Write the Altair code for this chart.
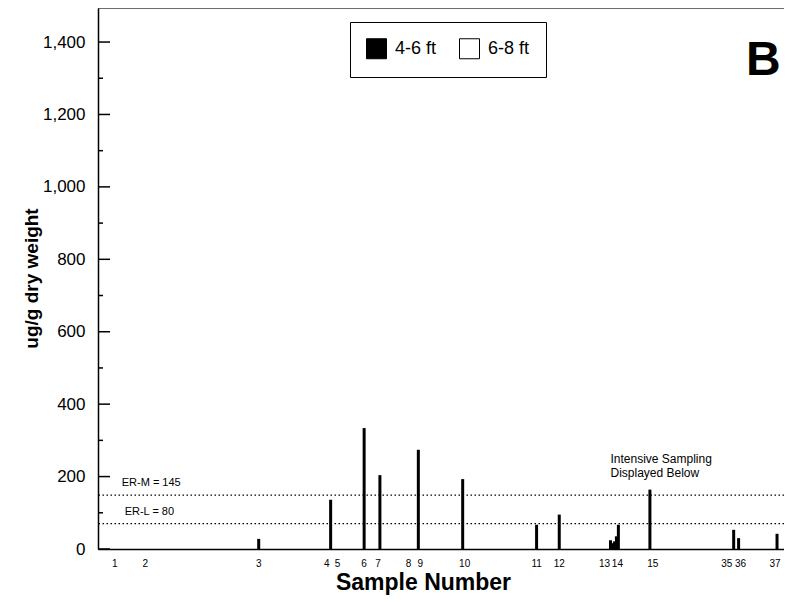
import altair as alt
import pandas as pd

FONT = "Liberation Sans"

# Sample-station positions along the transect (relative units) and concentrations (ug/g)
bar_pos = [158, 231, 265, 281, 320, 365, 440, 463, 515, 517, 519, 521, 523, 555, 640, 645, 684]
bar_val = [28, 136, 334, 204, 274, 193, 67, 95, 24, 16, 21, 35, 67, 164, 53, 30, 42]
bar_depth = ["4-6 ft"] * len(bar_pos)

# Sample number labels along the x axis
label_pos = [12, 43, 158, 227, 238, 265, 279, 310, 322, 367, 440, 463, 509, 522, 558, 633, 647, 682]
label_txt = ["1", "2", "3", "4", "5", "6", "7", "8", "9", "10", "11", "12", "13", "14", "15", "35", "36", "37"]

series = ["4-6 ft", "6-8 ft"]
series_fill = ["black", "white"]

major_ticks = [0, 200, 400, 600, 800, 1000, 1200, 1400]
minor_ticks = [100, 300, 500, 700, 900, 1100, 1300]

ref_vals = [149, 70]
ref_text = ["ER-M  = 145", "ER-L  = 80"]
ref_text_x = [19, 22]
ref_text_y = [182, 102]

note_text = ["Intensive Sampling", "Displayed Below"]
note_x = [515, 515]
note_y = [249, 210]

X_MAX = 686
Y_MAX = 1494
W, H = 686, 541

XT = "Sample Number"
YT = "ug/g dry weight"

xs = alt.Scale(domain=[0, X_MAX], nice=False, zero=False)
ys = alt.Scale(domain=[0, Y_MAX], nice=False)

bars_df = pd.DataFrame({"pos": bar_pos, "val": bar_val, "depth": bar_depth})
labels_df = pd.DataFrame({"pos": label_pos, "txt": label_txt})
maj_df = pd.DataFrame({"v": major_ticks})
min_df = pd.DataFrame({"v": minor_ticks})
ref_df = pd.DataFrame({"v": ref_vals})
reftxt_df = pd.DataFrame({"x": ref_text_x, "y": ref_text_y, "t": ref_text})
note_df = pd.DataFrame({"x": note_x, "y": note_y, "t": note_text})
b_df = pd.DataFrame({"x": [670], "y": [1309], "t": ["B"]})

bars = alt.Chart(bars_df).mark_bar(size=3, strokeWidth=0).encode(
    x=alt.X("pos:Q", scale=xs, title=XT, axis=alt.Axis(
        title=XT, labels=False, ticks=False, grid=False, domain=True,
        domainColor="black", domainWidth=1.5,
        titleFont=FONT, titleFontSize=23, titleFontWeight="bold", titleColor="black",
        titleX=325, titleY=33, titleAlign="center", titleBaseline="middle")),
    y=alt.Y("val:Q", scale=ys, title=YT, axis=alt.Axis(
        title=YT, values=major_ticks, labelExpr="format(datum.value, ',')", ticks=False, grid=False,
        domain=True, domainColor="black", domainWidth=1.5,
        labelFont=FONT, labelFontSize=17, labelColor="black", labelPadding=13,
        titleFont=FONT, titleFontSize=19, titleFontWeight="bold", titleColor="black",
        titleX=-67, titleY=270, titleAlign="center", titleBaseline="middle", titleAngle=270)),
    fill=alt.Fill("depth:N", scale=alt.Scale(domain=series, range=series_fill),
                  legend=alt.Legend(title=None, orient="none", legendX=252, legendY=14,
                                    direction="horizontal", symbolType="square", symbolSize=400,
                                    symbolStrokeColor="black", symbolStrokeWidth=1,
                                    labelFont=FONT, labelFontSize=18, labelColor="black",
                                    labelOffset=8, columnPadding=20, padding=16,
                                    strokeColor="black", fillColor="white")),
)

maj = alt.Chart(maj_df).mark_rule(color="black", strokeWidth=1.5).encode(
    y=alt.Y("v:Q", scale=ys, title=YT), x=alt.value(0), x2=alt.value(12))
mnr = alt.Chart(min_df).mark_rule(color="black", strokeWidth=1.5).encode(
    y=alt.Y("v:Q", scale=ys, title=YT), x=alt.value(0), x2=alt.value(5))

top = alt.Chart(pd.DataFrame({"v": [Y_MAX]})).mark_rule(color="black", strokeWidth=1).encode(
    y=alt.Y("v:Q", scale=ys, title=YT))

refs = alt.Chart(ref_df).mark_rule(color="black", strokeWidth=1.2, strokeDash=[1.5, 2.5]).encode(
    y=alt.Y("v:Q", scale=ys, title=YT))

reftxt = alt.Chart(reftxt_df).mark_text(font=FONT, fontSize=11, align="left", baseline="middle", color="black").encode(
    x=alt.X("x:Q", scale=xs, title=XT), y=alt.Y("y:Q", scale=ys, title=YT), text="t:N")

notes = alt.Chart(note_df).mark_text(font=FONT, fontSize=12, align="left", baseline="middle", color="black").encode(
    x=alt.X("x:Q", scale=xs, title=XT), y=alt.Y("y:Q", scale=ys, title=YT), text="t:N")

btxt = alt.Chart(b_df).mark_text(font=FONT, fontSize=48, fontWeight="bold", align="center",
                                 baseline="alphabetic", color="black").encode(
    x=alt.X("x:Q", scale=xs, title=XT), y=alt.Y("y:Q", scale=ys, title=YT), text="t:N")

xlabels = alt.Chart(labels_df).mark_text(font=FONT, fontSize=10, align="center", baseline="middle", color="black").encode(
    x=alt.X("pos:Q", scale=xs, title=XT), y=alt.value(H + 15), text="txt:N")

chart = alt.layer(bars, maj, mnr, top, refs, reftxt, notes, btxt, xlabels).properties(
    width=W, height=H,
    autosize=alt.AutoSizeParams(type="none"),
    padding={"left": 90, "top": 0, "right": 0, "bottom": 46},
).configure_view(stroke=None).configure(background="white")

chart.save("out.html", embed_options={"renderer": "svg", "actions": False})
